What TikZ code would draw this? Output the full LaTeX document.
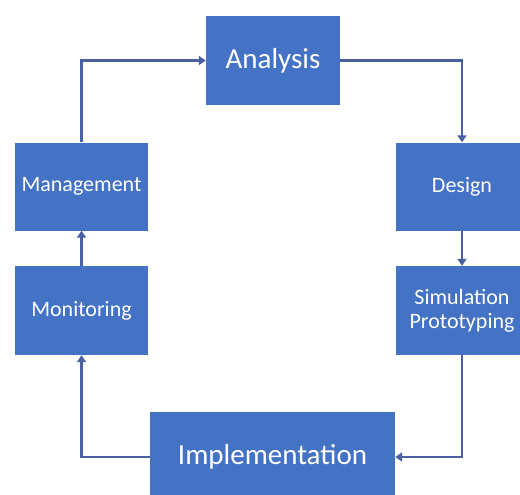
\documentclass[tikz,border=0pt]{standalone}
\usepackage{fontspec}
\setmainfont{Carlito}
\usetikzlibrary{arrows.meta}
\definecolor{boxblue}{RGB}{68,114,196}
\definecolor{lineblue}{RGB}{72,96,160}
\begin{document}
\begin{tikzpicture}[x=1pt,y=-1pt,
    stage/.style={rectangle,fill=boxblue,text=white,inner sep=0pt,
      minimum width=133pt,minimum height=88pt,font=\fontsize{22}{24}\selectfont,align=center},
    bigstage/.style={stage,font=\fontsize{29}{32}\selectfont},
    flow/.style={draw=lineblue,line width=2.5pt,-{Triangle[width=9pt,length=7pt]}}]
    \useasboundingbox[fill=white] (0,0) rectangle (520,495);
    % boxes of the cycle
    \node[bigstage,minimum width=134pt,minimum height=89pt] (ana) at (273,60.5) {Analysis};
    \node[stage] (des) at (462,186.5) {Design};
    \node[stage,minimum height=89pt] (sim) at (462,310.5) {Simulation\\Prototyping};
    \node[bigstage,minimum width=245pt,minimum height=90pt] (imp) at (272.5,457) {Implementation};
    \node[stage,minimum height=89pt] (mon) at (81.5,310.5) {Monitoring};
    \node[stage] (man) at (81.5,186.5) {Management};
    % connectors
    \draw[flow] (man.north) |- (ana.west);
    \draw[flow] (ana.east) -| (des.north);
    \draw[flow] (des) -- (sim);
    \draw[flow] (sim.south) |- (imp.east);
    \draw[flow] (imp.west) -| (mon.south);
    \draw[flow] (mon) -- (man);
\end{tikzpicture}
\end{document}
